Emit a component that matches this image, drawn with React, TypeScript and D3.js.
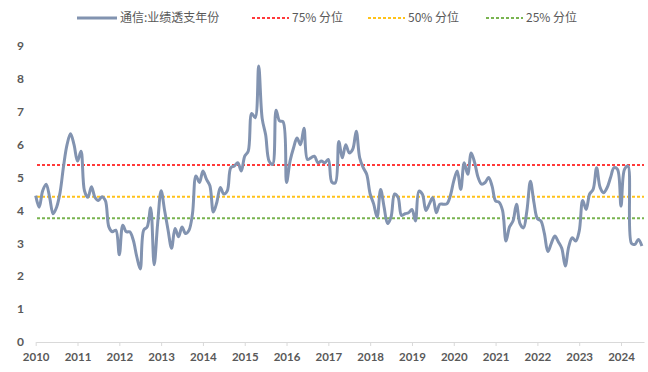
import React, { useEffect, useRef } from 'react';
import * as d3 from 'd3';

// monthly values, Jan 2010 .. Jul 2024
const values = [
  4.45, 4.1, 4.6, 4.8, 4.4, 3.9, 4.1, 4.55, 5.35, 6.0, 6.33, 6.0,
  5.5, 5.8, 4.6, 4.4, 4.72, 4.4, 4.3, 4.42, 4.3, 3.5, 3.35, 3.4,
  2.65, 3.55, 3.35, 3.35, 3.1, 2.6, 2.22, 3.4, 3.5, 4.08, 2.35, 3.6,
  4.6, 4.0, 3.4, 2.85, 3.45, 3.2, 3.5, 3.3, 3.4, 3.9, 5.05, 4.85,
  5.2, 4.95, 4.75, 3.95, 4.25, 4.7, 4.5, 4.6, 5.3, 5.35, 5.45, 5.2,
  5.65, 5.8, 6.95, 6.82, 8.39, 6.8, 6.3, 5.5, 5.4, 7.05, 6.72, 6.7,
  4.85, 5.5, 5.9, 6.2, 6.0, 6.5, 5.55, 5.6, 5.65, 5.45, 5.5, 5.45,
  5.55, 4.86, 4.84, 6.1, 5.6, 6.0, 5.75, 5.86, 6.41, 5.6, 5.3, 5.1,
  4.5, 4.2, 3.8, 4.64, 4.1, 3.6, 3.8, 4.5, 4.4, 3.85, 3.9, 3.93,
  4.03, 3.68, 4.59, 4.49, 4.0, 4.2, 4.39, 3.93, 4.19, 4.19, 4.2, 4.44,
  4.9, 5.2, 4.64, 5.45, 5.1, 5.75, 5.45, 5.0, 4.8, 4.85, 5.0, 4.74,
  4.29, 4.25, 4.0, 3.07, 3.5, 3.68, 4.19, 3.6, 3.47, 4.0, 4.89, 4.25,
  3.75, 3.68, 3.3, 2.75, 3.0, 3.22, 3.05, 2.85, 2.31, 2.9, 3.17, 3.07,
  3.37, 4.3, 4.03, 4.5, 4.64, 5.3, 4.7, 4.54, 4.69, 5.0, 5.3, 5.25,
  4.13, 5.25, 5.35, 3.0, 2.97, 3.12, 2.92,
];
const years = d3.range(2010, 2025);
const yTicks = d3.range(0, 10);
const seriesName = '通信:业绩透支年份';
const quantiles = [
  { name: '75% 分位', value: 5.38, color: '#FF3B3B' },
  { name: '50% 分位', value: 4.42, color: '#FFC21A' },
  { name: '25% 分位', value: 3.76, color: '#79B450' },
];

const W = 648;
const H = 372;
const lineColor = '#8293B0';
const textColor = '#595959';

const App = () => {
  const ref = useRef(null);

  useEffect(() => {
    const svg = d3.select(ref.current);
    svg.selectAll('*').remove();

    const x = d3.scaleLinear().domain([0, 174.6]).range([35.7, 644]);
    const y = d3.scaleLinear().domain([0, 9]).range([342, 46]);

    // y labels
    svg.append('g')
      .selectAll('text')
      .data(yTicks)
      .join('text')
      .attr('x', 24)
      .attr('y', d => y(d))
      .attr('dy', '0.35em')
      .attr('text-anchor', 'end')
      .attr('font-family', 'Lato, sans-serif')
      .attr('font-weight', 'bold')
      .attr('font-size', 12)
      .attr('fill', textColor)
      .text(d => d);

    // x axis
    const xAxis = d3.axisBottom(x)
      .tickValues(years.map(yr => (yr - 2010) * 12))
      .tickFormat((d, i) => String(years[i]))
      .tickSize(4)
      .tickSizeOuter(0);
    const gx = svg.append('g').attr('transform', `translate(0,${y(0)})`).call(xAxis);
    gx.select('.domain').attr('stroke', '#D9D9D9');
    gx.selectAll('.tick line').attr('stroke', '#D9D9D9');
    gx.selectAll('.tick text')
      .attr('y', 11)
      .attr('font-family', 'Lato, sans-serif')
      .attr('font-weight', 'bold')
      .attr('font-size', 11.5)
      .attr('fill', textColor);

    // quantile lines
    quantiles.forEach(q => {
      svg.append('line')
        .attr('x1', 37).attr('x2', 644)
        .attr('y1', y(q.value)).attr('y2', y(q.value))
        .attr('stroke', q.color)
        .attr('stroke-width', 2)
        .attr('stroke-dasharray', '3 2');
    });

    // series
    const line = d3.line<number>()
      .x((d, i) => x(i))
      .y(d => y(d))
      .curve(d3.curveCatmullRom.alpha(0.5));
    svg.append('path')
      .datum(values)
      .attr('d', line)
      .attr('fill', 'none')
      .attr('stroke', lineColor)
      .attr('stroke-width', 3)
      .attr('stroke-linejoin', 'round');

    // legend
    const legend = [
      { name: seriesName, color: lineColor, x: 77, dash: null, w: 3 },
      { name: quantiles[0].name, color: quantiles[0].color, x: 252, dash: '3 2', w: 2 },
      { name: quantiles[1].name, color: quantiles[1].color, x: 368, dash: '3 2', w: 2 },
      { name: quantiles[2].name, color: quantiles[2].color, x: 486, dash: '3 2', w: 2 },
    ];
    const ly = 18;
    legend.forEach((l, i) => {
      const len = i === 0 ? 40 : 37;
      svg.append('line')
        .attr('x1', l.x).attr('x2', l.x + len)
        .attr('y1', ly).attr('y2', ly)
        .attr('stroke', l.color)
        .attr('stroke-width', l.w)
        .attr('stroke-dasharray', l.dash);
      svg.append('text')
        .attr('x', l.x + len + 3)
        .attr('y', ly)
        .attr('dy', '0.35em')
        .attr('font-family', '"Noto Sans CJK SC", sans-serif')
        .attr('font-size', 12)
        .attr('fill', textColor)
        .text(l.name);
    });
  }, []);

  return (
    <svg ref={ref} width={W} height={H}
      style={{ position: 'absolute', left: 0, top: 0, background: '#fff' }} />
  );
};

export default App;
